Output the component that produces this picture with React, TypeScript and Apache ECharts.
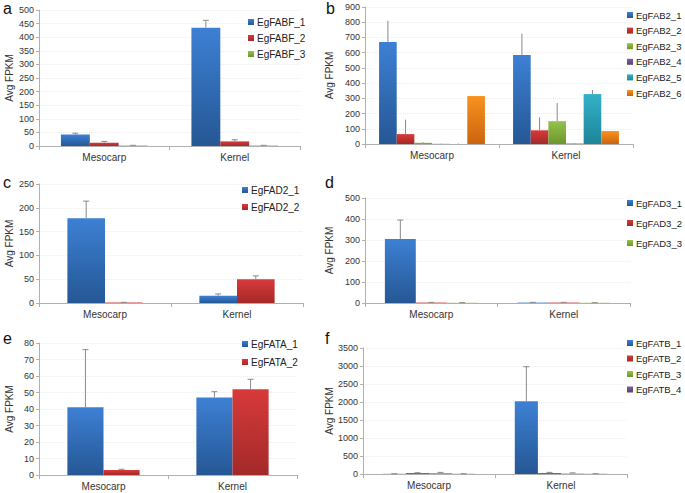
import React, { useEffect, useRef } from "react";
import * as echarts from "echarts";

const categories = ["Mesocarp", "Kernel"];

// Panel a
const fabfNames = ["EgFABF_1", "EgFABF_2", "EgFABF_3"];
const fabfValues = [[42, 435], [12, 17], [2, 2]];
const fabfErrors = [[5, 27], [5, 6], [0.5, 0.5]];

// Panel b
const fab2Names = ["EgFAB2_1", "EgFAB2_2", "EgFAB2_3", "EgFAB2_4", "EgFAB2_5", "EgFAB2_6"];
const fab2Values = [[670, 585], [65, 90], [8, 150], [1, 3], [0, 328], [315, 85]];
const fab2Errors = [[140, 140], [95, 85], [5, 120], [2, 3], [3, 27], [0, 0]];

// Panel c
const fad2Names = ["EgFAD2_1", "EgFAD2_2"];
const fad2Values = [[178, 15], [1, 50]];
const fad2Errors = [[36, 4], [0.5, 7]];

// Panel d
const fad3Names = ["EgFAD3_1", "EgFAD3_2", "EgFAD3_3"];
const fad3Values = [[305, 2], [2, 2], [1, 1]];
const fad3Errors = [[90, 1], [1, 1], [0.5, 0.5]];

// Panel e
const fataNames = ["EgFATA_1", "EgFATA_2"];
const fataValues = [[41, 47], [3, 52]];
const fataErrors = [[35, 3.5], [0.5, 6]];

// Panel f
const fatbNames = ["EgFATB_1", "EgFATB_2", "EgFATB_3", "EgFATB_4"];
const fatbValues = [[5, 2020], [25, 25], [25, 15], [5, 5]];
const fatbErrors = [[3, 960], [10, 20], [20, 15], [3, 3]];

const yMax = [500, 900, 250, 500, 80, 3500];
const yStep = [50, 100, 50, 100, 10, 500];
const panelLetters = ["a", "b", "c", "d", "e", "f"];

const palette: [string, string][] = [
  ["#3d80d4", "#255794"],
  ["#d83a3a", "#a32929"],
  ["#95c24c", "#6c962e"],
  ["#7d5e9e", "#5b4078"],
  ["#33b1c9", "#1e8499"],
  ["#f7921f", "#cc640e"],
];

const FONT = "'Liberation Sans', Arial, sans-serif";

export default function App() {
  const ref = useRef<HTMLDivElement>(null);
  useEffect(() => {
    document.body.style.margin = "0";
    if (!ref.current) return;
    const chart = echarts.init(ref.current, null, { renderer: "svg" });

    const panels = [
      { names: fabfNames, values: fabfValues, errors: fabfErrors, grid: [39, 10, 261, 136], gap: 0.336, cap: 6, legend: [248, 16, 4], lfs: 10, nameGap: 25, letter: [3, 0] },
      { names: fab2Names, values: fab2Values, errors: fab2Errors, grid: [365, 7, 268, 137], gap: 0.21, cap: 0, legend: [627, 9, 3.6], lfs: 9.5, nameGap: 31, letter: [326, 0] },
      { names: fad2Names, values: fad2Values, errors: fad2Errors, grid: [39, 184, 264, 119], gap: 0.43, cap: 6, legend: [242, 184, 5], lfs: 10, nameGap: 25, letter: [3, 174] },
      { names: fad3Names, values: fad3Values, errors: fad3Errors, grid: [365, 198, 265, 105], gap: 0.3, cap: 6, legend: [627, 197, 8], lfs: 9.5, nameGap: 31, letter: [325, 174] },
      { names: fataNames, values: fataValues, errors: fataErrors, grid: [39, 343, 258, 132], gap: 0.44, cap: 6, legend: [242, 338, 6], lfs: 10, nameGap: 25, letter: [3, 330] },
      { names: fatbNames, values: fatbValues, errors: fatbErrors, grid: [363, 348, 264, 126], gap: 0.3, cap: 6, legend: [627, 337, 3.5], lfs: 9.5, nameGap: 29, letter: [325, 330] },
    ];

    const grids: any[] = [];
    const xAxes: any[] = [];
    const yAxes: any[] = [];
    const legends: any[] = [];
    const series: any[] = [];
    const graphics: any[] = [];

    panels.forEach((p, pi) => {
      grids.push({ left: p.grid[0], top: p.grid[1], width: p.grid[2], height: p.grid[3], containLabel: false });
      xAxes.push({
        type: "category",
        gridIndex: pi,
        data: categories,
        axisLine: { lineStyle: { color: "#b0b0b0", width: 1 } },
        axisTick: { show: true, length: 4, lineStyle: { color: "#b0b0b0" } },
        axisLabel: { fontSize: 10, color: "#333", fontFamily: FONT, margin: 6 },
      });
      yAxes.push({
        type: "value",
        gridIndex: pi,
        min: 0,
        max: yMax[pi],
        interval: yStep[pi],
        name: "Avg FPKM",
        nameLocation: "middle",
        nameGap: p.nameGap,
        nameTextStyle: { fontSize: 10, color: "#333", fontFamily: FONT },
        axisLine: { show: true, lineStyle: { color: "#b0b0b0" } },
        axisTick: { show: true, length: 3, lineStyle: { color: "#b0b0b0" } },
        axisLabel: { fontSize: 9, color: "#333", fontFamily: FONT, margin: 5, formatter: (v: number) => String(v) },
        splitLine: { show: true, lineStyle: { color: "#ececec", type: "dotted" } },
      });
      legends.push({
        orient: "vertical",
        left: p.legend[0],
        top: p.legend[1],
        padding: 0,
        itemWidth: 6,
        itemHeight: 6,
        itemGap: p.legend[2],
        icon: "rect",
        data: p.names,
        textStyle: { fontSize: p.lfs, color: "#222", fontFamily: FONT, lineHeight: 12, padding: [0, 0, 0, -2] },
      });
      const n = p.names.length;
      p.names.forEach((nm, si) => {
        const col = palette[si];
        series.push({
          type: "bar",
          name: nm,
          xAxisIndex: pi,
          yAxisIndex: pi,
          data: p.values[si],
          barGap: "0%",
          barCategoryGap: (p.gap * 100).toFixed(1) + "%",
          itemStyle: {
            color: new echarts.graphic.LinearGradient(0, 0, 0, 1, [
              { offset: 0, color: col[0] },
              { offset: 1, color: col[1] },
            ]),
          },
        });
      });
      p.names.forEach((nm, si) => {
        const data = p.values[si].map((v, ci) => [ci, v, p.errors[si][ci]]);
        series.push({
          type: "custom",
          name: nm + "_err",
          xAxisIndex: pi,
          yAxisIndex: pi,
          z: 5,
          silent: true,
          data,
          renderItem: (params: any, api: any) => {
            const ci = api.value(0);
            const v = api.value(1);
            const e = api.value(2);
            if (!e) return null;
            const center = api.coord([ci, 0])[0];
            const band = api.size([1, 0])[0];
            const total = band * (1 - p.gap);
            const bw = total / n;
            const cx = center - total / 2 + bw * (si + 0.5);
            const yb = api.coord([ci, v])[1];
            const yt = api.coord([ci, v + e])[1];
            const children: any[] = [
              { type: "line", shape: { x1: cx, y1: yb, x2: cx, y2: yt }, style: { stroke: "#8a8a8a", lineWidth: 1 } },
            ];
            if (p.cap > 0) {
              children.push({ type: "line", shape: { x1: cx - p.cap / 2, y1: yt, x2: cx + p.cap / 2, y2: yt }, style: { stroke: "#8a8a8a", lineWidth: 1 } });
            }
            return { type: "group", children };
          },
        });
      });
      graphics.push({
        type: "text",
        left: p.letter[0],
        top: p.letter[1],
        style: { text: panelLetters[pi], fontSize: 16, fill: "#111", fontFamily: FONT },
      });
    });

    chart.setOption({
      animation: false,
      backgroundColor: "#fff",
      grid: grids,
      xAxis: xAxes,
      yAxis: yAxes,
      legend: legends,
      series,
      graphic: graphics,
    });
    return () => chart.dispose();
  }, []);
  return <div ref={ref} style={{ width: 685, height: 493 }} />;
}
